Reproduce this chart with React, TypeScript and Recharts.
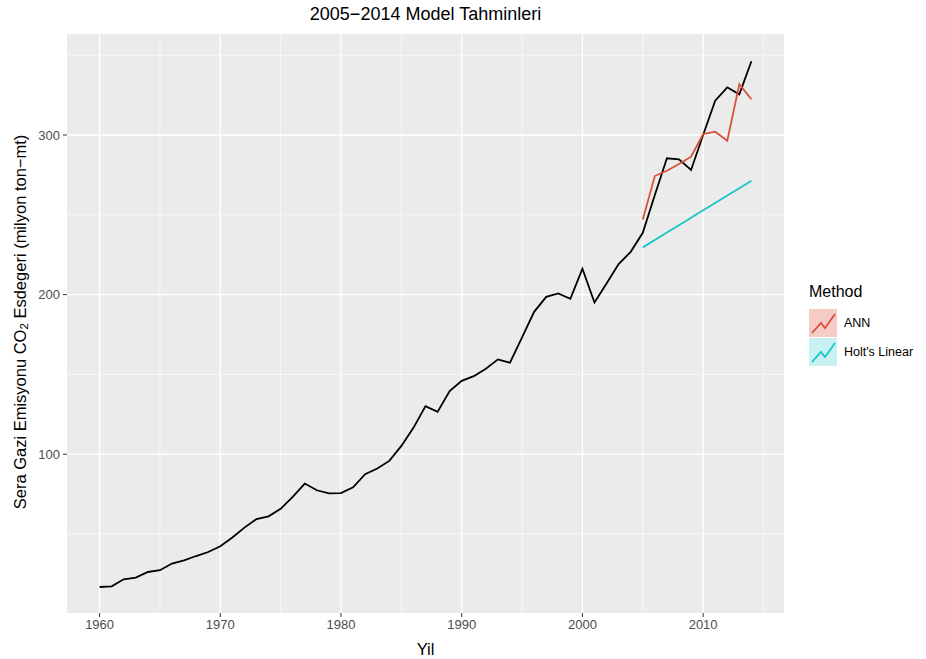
import React from "react";
import {
  LineChart,
  Line,
  XAxis,
  YAxis,
  CartesianGrid,
  Label,
} from "recharts";

// yillar ve gozlenen seri
const years = [
  1960, 1961, 1962, 1963, 1964, 1965, 1966, 1967, 1968, 1969,
  1970, 1971, 1972, 1973, 1974, 1975, 1976, 1977, 1978, 1979,
  1980, 1981, 1982, 1983, 1984, 1985, 1986, 1987, 1988, 1989,
  1990, 1991, 1992, 1993, 1994, 1995, 1996, 1997, 1998, 1999,
  2000, 2001, 2002, 2003, 2004, 2005, 2006, 2007, 2008, 2009,
  2010, 2011, 2012, 2013, 2014,
];

const observed = [
  16.8, 17.2, 21.6, 22.7, 26.2, 27.3, 31.5, 33.5, 36.2, 38.7,
  42.3, 47.8, 54.0, 59.4, 61.1, 65.8, 73.2, 81.6, 77.4, 75.5,
  75.6, 79.3, 87.5, 91.0, 95.8, 105.2, 116.5, 130.1, 126.5, 139.5,
  146.0, 148.9, 153.5, 159.4, 157.3, 173.2, 189.2, 198.6, 200.7, 197.4,
  216.2, 195.1, 207.0, 219.1, 226.8, 238.7, 262.4, 285.4, 284.7, 278.1,
  300.0, 321.5, 329.9, 325.5, 346.2,
];

// 2005-2014 tahminleri
const forecastYears = [2005, 2006, 2007, 2008, 2009, 2010, 2011, 2012, 2013, 2014];
const annForecast = [247.1, 274.3, 277.6, 281.8, 286.4, 300.6, 302.1, 296.4, 331.8, 322.4];
const holtForecast = [229.6, 234.2, 238.9, 243.5, 248.2, 252.8, 257.4, 262.1, 266.7, 271.4];

const xTicks = [1960, 1970, 1980, 1990, 2000, 2010];
const xMinor = [1965, 1975, 1985, 1995, 2005, 2015];
const yTicks = [100, 200, 300];
const yMinor = [50, 150, 250, 350];

const data = years.map((year, i) => {
  const k = forecastYears.indexOf(year);
  return {
    year,
    observed: observed[i],
    ann: k >= 0 ? annForecast[k] : null,
    holt: k >= 0 ? holtForecast[k] : null,
  };
});

const FONT = '"Liberation Sans", Arial, sans-serif';
const RED = "#D9503B";
const CYAN = "#19C4C7";

const methods = [
  { name: "ANN", color: RED, bg: "#F6CBC6" },
  { name: "Holt's Linear", color: CYAN, bg: "#C8F1F2" },
];

const KeyGlyph = ({ color, bg }: { color: string; bg: string }) => (
  <svg width={28} height={28} style={{ display: "block" }}>
    <rect x={0} y={0} width={28} height={28} fill={bg} />
    <polyline
      points="3,24 12,14 16,19 26,5"
      fill="none"
      stroke={color}
      strokeWidth={1.8}
    />
  </svg>
);

const MethodLegend = () => (
  <div
    style={{
      position: "absolute",
      left: 809,
      top: 283,
      fontFamily: FONT,
    }}
  >
    <div style={{ fontSize: 16, color: "#000", marginBottom: 7 }}>Method</div>
    {methods.map((m) => (
      <div
        key={m.name}
        style={{ display: "flex", alignItems: "center", height: 29 }}
      >
        <KeyGlyph color={m.color} bg={m.bg} />
        <span style={{ fontSize: 12.5, color: "#000", marginLeft: 7 }}>
          {m.name}
        </span>
      </div>
    ))}
  </div>
);

const YTitle = () => (
  <text
    x={20}
    y={322}
    transform="rotate(-90 20 322)"
    textAnchor="middle"
    dominantBaseline="central"
    fontFamily={FONT}
    fontSize={16.5}
    fill="#000"
  >
    Sera Gazi Emisyonu CO
    <tspan dy={4} fontSize={11.5}>
      2
    </tspan>
    <tspan dy={-4}> Esdegeri (milyon ton−mt)</tspan>
  </text>
);

const App: React.FC = () => {
  return (
    <div
      style={{
        position: "absolute",
        left: 0,
        top: 0,
        width: 926,
        height: 659,
        background: "#fff",
        fontFamily: FONT,
      }}
    >
      <div
        style={{
          position: "absolute",
          top: 4,
          left: 67,
          width: 717,
          textAlign: "center",
          fontSize: 18,
          color: "#000",
        }}
      >
        2005−2014 Model Tahminleri
      </div>
      <LineChart
        width={926}
        height={659}
        data={data}
        margin={{ top: 34, right: 142, bottom: 0, left: 0 }}
      >
        <CartesianGrid
          fill="#EBEBEB"
          stroke="#FFFFFF"
          strokeWidth={0.6}
          horizontalValues={yMinor}
          verticalValues={xMinor}
        />
        <CartesianGrid
          stroke="#FFFFFF"
          strokeWidth={1.3}
          horizontalValues={yTicks}
          verticalValues={xTicks}
        />
        <XAxis
          dataKey="year"
          type="number"
          domain={[1957.3, 2016.7]}
          allowDataOverflow
          ticks={xTicks}
          height={46}
          axisLine={false}
          tickSize={4}
          tickLine={{ stroke: "#333333" }}
          tick={{ fill: "#4D4D4D", fontSize: 13, fontFamily: FONT }}
          tickMargin={3}
        >
          <Label
            value="Yil"
            position="insideBottom"
            offset={4}
            style={{ fontSize: 16.5, fill: "#000", fontFamily: FONT }}
          />
        </XAxis>
        <YAxis
          type="number"
          domain={[0.5, 363.3]}
          allowDataOverflow
          ticks={yTicks}
          width={67}
          axisLine={false}
          tickSize={4}
          tickLine={{ stroke: "#333333" }}
          tick={{ fill: "#4D4D4D", fontSize: 13, fontFamily: FONT }}
          tickMargin={3}
          label={<YTitle />}
        />
        <Line
          dataKey="observed"
          type="linear"
          stroke="#000000"
          strokeWidth={1.8}
          dot={false}
          isAnimationActive={false}
        />
        <Line
          dataKey="ann"
          name="ANN"
          type="linear"
          stroke={RED}
          strokeWidth={1.8}
          dot={false}
          isAnimationActive={false}
        />
        <Line
          dataKey="holt"
          name="Holt's Linear"
          type="linear"
          stroke={CYAN}
          strokeWidth={1.8}
          dot={false}
          isAnimationActive={false}
        />
      </LineChart>
      <MethodLegend />
    </div>
  );
};

export default App;
